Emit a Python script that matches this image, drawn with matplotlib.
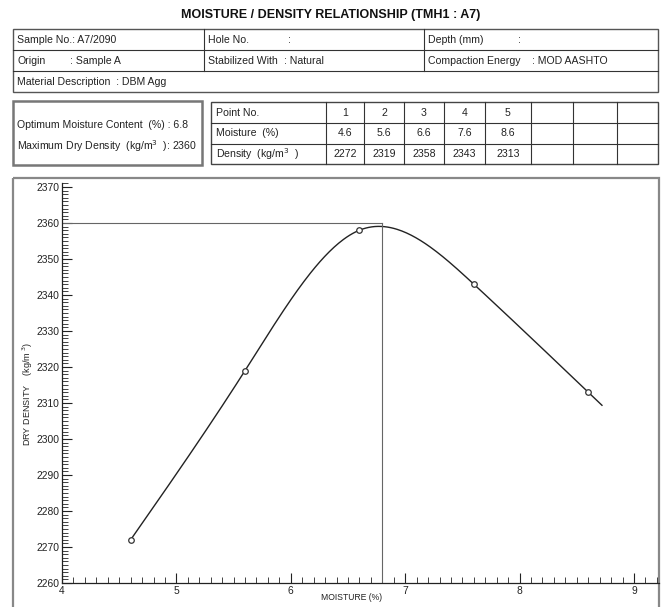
import numpy as np
import matplotlib
matplotlib.use('Agg')
import matplotlib.pyplot as plt
from matplotlib.patches import Rectangle
from matplotlib.ticker import MultipleLocator

plt.rcParams['font.family'] = ['Liberation Sans', 'DejaVu Sans']

# data from the report
point_no = [1, 2, 3, 4, 5]
moisture = [4.6, 5.6, 6.6, 7.6, 8.6]
density = [2272, 2319, 2358, 2343, 2313]
omc = 6.8
mdd = 2360
curve_end = 8.72

title = 'MOISTURE / DENSITY RELATIONSHIP (TMH1 : A7)'
sample_no = 'A7/2090'
origin = 'Sample A'
stabilized = 'Natural'
energy = 'MOD AASHTO'
material = 'DBM Agg'


def natural_spline(x, y, xs):
    # natural cubic spline, linear past the last knot
    x = np.asarray(x, float)
    y = np.asarray(y, float)
    n = len(x)
    h = np.diff(x)
    A = np.zeros((n, n))
    r = np.zeros(n)
    A[0, 0] = A[-1, -1] = 1
    for i in range(1, n - 1):
        A[i, i - 1] = h[i - 1]
        A[i, i] = 2 * (h[i - 1] + h[i])
        A[i, i + 1] = h[i]
        r[i] = 6 * ((y[i + 1] - y[i]) / h[i] - (y[i] - y[i - 1]) / h[i - 1])
    M = np.linalg.solve(A, r)
    out = np.empty_like(xs)
    for k, xv in enumerate(xs):
        if xv > x[-1]:
            hh = h[-1]
            slope = (y[-1] - y[-2]) / hh + hh * (2 * M[-1] + M[-2]) / 6
            out[k] = y[-1] + slope * (xv - x[-1])
            continue
        i = min(np.searchsorted(x, xv) - 1, n - 2)
        i = max(i, 0)
        hh = h[i]
        a = (x[i + 1] - xv) / hh
        b = (xv - x[i]) / hh
        out[k] = (a * y[i] + b * y[i + 1]
                  + ((a ** 3 - a) * M[i] + (b ** 3 - b) * M[i + 1]) * hh ** 2 / 6)
    return out


fig = plt.figure(figsize=(6.64, 6.07), dpi=100)

# overlay in pixel units for the report boxes
bg = fig.add_axes([0, 0, 1, 1])
bg.set_xlim(0, 664)
bg.set_ylim(607, 0)
bg.axis('off')

fs = 7.6
tc = '#222222'


def box(x0, y0, x1, y1, lw=0.8, color='#333333'):
    bg.add_patch(Rectangle((x0, y0), x1 - x0, y1 - y0, fill=False, lw=lw, ec=color))


def hline(x0, x1, y, lw=0.8, color='#333333'):
    bg.plot([x0, x1], [y, y], color=color, lw=lw)


def vline(x, y0, y1, lw=0.8, color='#333333'):
    bg.plot([x, x], [y0, y1], color=color, lw=lw)


def txt(x, y, s, ha='left'):
    bg.text(x, y, s, ha=ha, va='center', fontsize=fs, color=tc)


bg.text(331, 15, title, ha='center', va='center', fontsize=9.0, weight='bold', color='#111111')

# header table
box(13, 29, 658, 92, lw=1.0, color='#555555')
hline(13, 658, 50)
hline(13, 658, 71)
vline(204, 29, 71)
vline(424, 29, 71)
txt(17, 40, 'Sample No.: ' + sample_no)
txt(17, 61, 'Origin')
txt(70, 61, ': ' + origin)
txt(17, 82, 'Material Description  : ' + material)
txt(208, 40, 'Hole No.')
txt(288, 40, ':')
txt(208, 61, 'Stabilized With')
txt(284, 61, ': ' + stabilized)
txt(428, 40, 'Depth (mm)')
txt(518, 40, ':')
txt(428, 61, 'Compaction Energy')
txt(532, 61, ': ' + energy)

# result box
box(13, 101, 202, 165, lw=1.8, color='#777777')
txt(17, 125, 'Optimum Moisture Content  (%%) : %.1f' % omc)
txt(17, 146, 'Maximum Dry Density  (kg/m$^3$  ): %d' % mdd)

# points table
col_edges = [211, 326, 364, 404, 444, 485, 531, 573, 617, 658]
row_edges = [102, 123, 144, 164]
box(211, 102, 658, 164, lw=1.0, color='#444444')
for yy in row_edges[1:-1]:
    hline(211, 658, yy)
for xx in col_edges[1:-1]:
    vline(xx, 102, 164)
row_mid = [(row_edges[i] + row_edges[i + 1]) / 2 for i in range(3)]
txt(216, row_mid[0], 'Point No.')
txt(216, row_mid[1], 'Moisture  (%)')
txt(216, row_mid[2], 'Density  (kg/m$^3$  )')
for j in range(len(point_no)):
    cx = (col_edges[j + 1] + col_edges[j + 2]) / 2
    txt(cx, row_mid[0], str(point_no[j]), ha='center')
    txt(cx, row_mid[1], '%.1f' % moisture[j], ha='center')
    txt(cx, row_mid[2], str(density[j]), ha='center')

# chart frame
box(13, 178, 659, 612, lw=1.6, color='#888888')

# chart
ax = fig.add_axes([62 / 664, 1 - 583 / 607, (659 - 62) / 664, (583 - 183) / 607])
ax.set_facecolor('none')
ax.set_xlim(4, 4 + 597 / 114.4)
ax.set_ylim(2260, 2260 + 400 / 3.6)

xs = np.linspace(moisture[0], curve_end, 300)
ax.plot(xs, natural_spline(moisture, density, xs), color='#222222', lw=1.0)
ax.plot(moisture, density, 'o', mfc='white', mec='#333333', ms=4, mew=0.9)
ax.plot([4, omc], [mdd, mdd], color='#666666', lw=0.8)
ax.plot([omc, omc], [2260, mdd], color='#666666', lw=0.8)

for s in ['top', 'right']:
    ax.spines[s].set_visible(False)
for s in ['left', 'bottom']:
    ax.spines[s].set_color('#222222')
    ax.spines[s].set_linewidth(0.9)

ax.xaxis.set_major_locator(MultipleLocator(1))
ax.xaxis.set_minor_locator(MultipleLocator(0.1))
ax.yaxis.set_major_locator(MultipleLocator(10))
ax.yaxis.set_minor_locator(MultipleLocator(1))
ax.tick_params(which='major', direction='in', length=7, width=0.8, labelsize=7.4, colors='#222222', pad=2)
ax.tick_params(which='minor', direction='in', length=4, width=0.6, colors='#222222')
ax.set_yticks(range(2260, 2371, 10))

fig.text(352 / 664, 1 - 598 / 607, 'MOISTURE (%)', ha='center', va='center', fontsize=6.2, color=tc)
fig.text(28 / 664, 1 - 394 / 607, 'DRY DENSITY    (kg/m $^3$)', ha='center', va='center',
         rotation=90, fontsize=6.5, color=tc)

fig.savefig('out.png', dpi=100)
